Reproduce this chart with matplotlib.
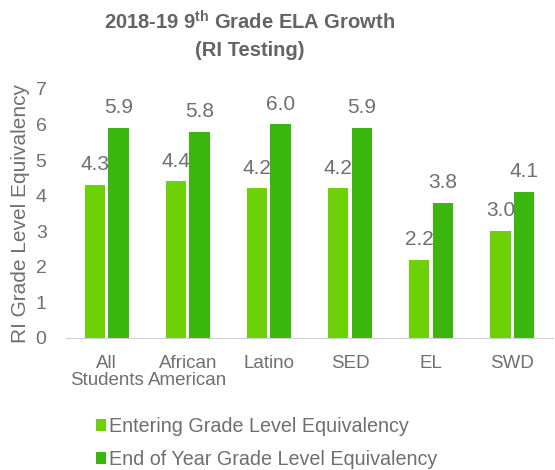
import matplotlib.pyplot as plt
import numpy as np

categories = ['All\nStudents', 'African\nAmerican', 'Latino', 'SED', 'EL', 'SWD']
entering = [4.3, 4.4, 4.2, 4.2, 2.2, 3.0]
end_of_year = [5.9, 5.8, 6.0, 5.9, 3.8, 4.1]
series_names = ['Entering Grade Level Equivalency', 'End of Year Grade Level Equivalency']

plt.rcParams['font.family'] = ['Liberation Sans', 'DejaVu Sans']
plt.rcParams['mathtext.fontset'] = 'custom'
plt.rcParams['mathtext.rm'] = 'Liberation Sans'
plt.rcParams['mathtext.bf'] = 'Liberation Sans:bold'
gray = '#6f6f6f'
c_light = '#6CD106'
c_dark = '#3AB60E'

fig = plt.figure(figsize=(5.55, 4.7), dpi=100)
ax = fig.add_axes([0.119, 0.281, 0.877, 0.530])

x = np.arange(len(categories))
w = 0.25
b1 = ax.bar(x - w/2 - 0.02, entering, w, color=c_light, label=series_names[0])
b2 = ax.bar(x + w/2 + 0.02, end_of_year, w, color=c_dark, label=series_names[1])
for bars, vals in [(b1, entering), (b2, end_of_year)]:
    for r, v in zip(bars, vals):
        ax.text(r.get_x() + r.get_width()/2, v + 0.3, f"{v:.1f}", ha='center', va='bottom',
                fontsize=15, color=gray)

ax.set_xlim(-0.5, len(categories) - 0.5)
ax.set_ylim(0, 7)
ax.set_yticks(range(8))
ax.set_xticks(x)
ax.set_xticklabels(categories, fontsize=13.5, color=gray, linespacing=1.05)
ax.tick_params(axis='y', labelsize=14, labelcolor=gray, length=0, pad=14)
ax.tick_params(axis='x', length=0, pad=12)
for s in ['top', 'right', 'left']:
    ax.spines[s].set_visible(False)
ax.spines['bottom'].set_color('#d0d0d0')
ax.set_ylabel('RI Grade Level Equivalency', fontsize=15, color=gray, labelpad=4)

fig.text(0.45, 0.953, '2018-19 9$\\mathbf{^{th}}$ Grade ELA Growth', ha='center', va='center',
         fontsize=14.5, fontweight='bold', color='#646464')
fig.text(0.45, 0.892, '(RI Testing)', ha='center', va='center',
         fontsize=14.5, fontweight='bold', color='#646464')

fig.legend(handles=[b1, b2], loc='upper left', bbox_to_anchor=(0.158, 0.13), frameon=False,
           fontsize=14.2, labelcolor=gray, handlelength=0.55, handleheight=0.55,
           handletextpad=0.15, labelspacing=0.7, borderaxespad=0)

fig.savefig('out.png', dpi=100)
